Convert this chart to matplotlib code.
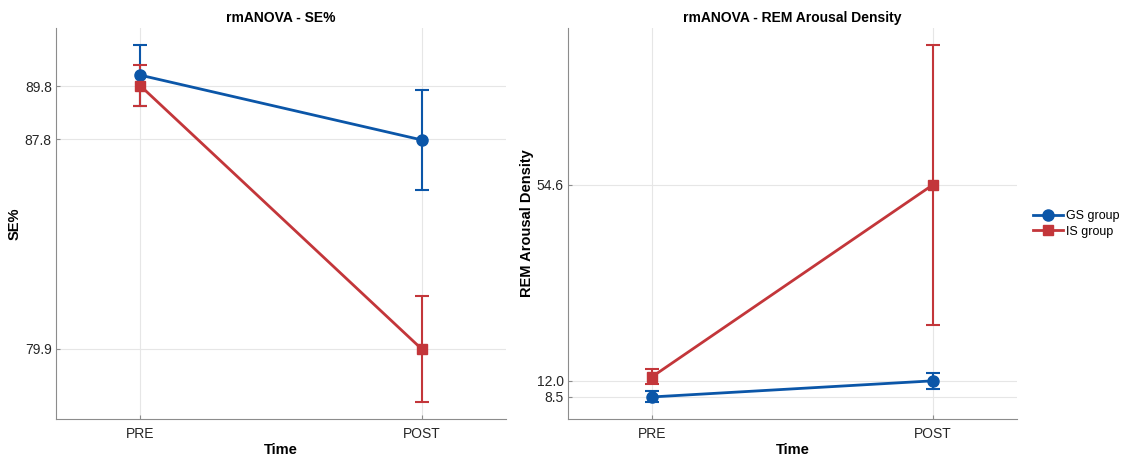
import numpy as np
import matplotlib.pyplot as plt
from matplotlib.lines import Line2D

plt.rcParams['font.family'] = ['Liberation Sans', 'DejaVu Sans']

# Data
time_labels = ['PRE', 'POST']

se_gs = [90.22, 87.78]
se_gs_err = [1.15, 1.90]
se_is = [89.82, 79.90]
se_is_err = [0.77, 2.00]
se_ticks = [79.9, 87.8, 89.8]

rem_gs = [8.5, 12.0]
rem_gs_err = [1.2, 1.7]
rem_is = [12.9, 54.6]
rem_is_err = [1.6, 30.4]
rem_ticks = [8.5, 12.0, 54.6]

blue = '#0B56A8'
red = '#C3363A'

fig = plt.figure(figsize=(11.26, 4.59), dpi=100)
ax1 = fig.add_axes([0.0497, 0.0871, 0.3997, 0.852])
ax2 = fig.add_axes([0.5044, 0.0871, 0.3988, 0.852])

x = np.arange(len(time_labels))


def panel(ax, gs, gs_err, is_, is_err, ticks, ylim, title, ylabel):
    ax.errorbar(x, gs, yerr=gs_err, color=blue, marker='o', markersize=8,
                linewidth=2, elinewidth=1.5, capsize=5, capthick=1.5,
                zorder=3)
    ax.errorbar(x, is_, yerr=is_err, color=red, marker='s', markersize=7,
                linewidth=2, elinewidth=1.5, capsize=5, capthick=1.5,
                zorder=3)
    ax.set_xlim(-0.3, 1.3)
    ax.set_ylim(*ylim)
    ax.set_xticks(x)
    ax.set_xticklabels(time_labels)
    ax.set_yticks(ticks)
    ax.set_yticklabels([f'{t:.1f}' for t in ticks])
    ax.grid(True, color='#e6e6e6', linewidth=0.8)
    ax.set_axisbelow(True)
    for s in ['top', 'right']:
        ax.spines[s].set_visible(False)
    for s in ['left', 'bottom']:
        ax.spines[s].set_color('#8c8c8c')
    ax.tick_params(direction='in', length=3, colors='#8c8c8c',
                   labelcolor='#262626', labelsize=10)
    ax.tick_params(axis='x', pad=6)
    ax.tick_params(axis='y', pad=3)
    ax.set_title(title, fontsize=10, fontweight='bold', pad=4)
    ax.set_xlabel('Time', fontsize=10.5, fontweight='bold', labelpad=1)
    ax.set_ylabel(ylabel, fontsize=10.5, fontweight='bold', labelpad=2)


panel(ax1, se_gs, se_gs_err, se_is, se_is_err, se_ticks, (77.26, 92.0),
      'rmANOVA - SE%', 'SE%')
panel(ax2, rem_gs, rem_gs_err, rem_is, rem_is_err, rem_ticks, (3.7, 88.7),
      'rmANOVA - REM Arousal Density', 'REM Arousal Density')

handles = [Line2D([], [], color=blue, marker='o', markersize=8, linewidth=2),
           Line2D([], [], color=red, marker='s', markersize=7, linewidth=2)]
fig.legend(handles, ['GS group', 'IS group'], loc='center left',
           bbox_to_anchor=(0.907, 0.512), frameon=False, fontsize=9,
           handlelength=2.4, handletextpad=0.3, labelspacing=0.3)

fig.savefig('out.png', dpi=100)
